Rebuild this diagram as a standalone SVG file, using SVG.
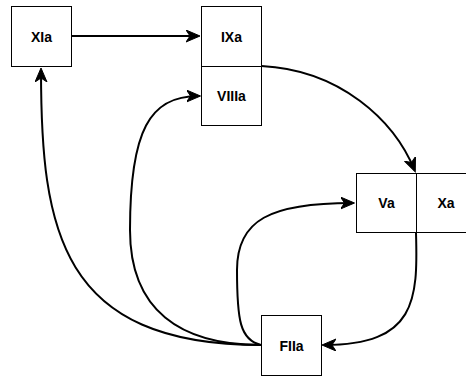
<svg xmlns="http://www.w3.org/2000/svg" width="466" height="376" viewBox="0 0 466 376">
<style>
.box{fill:#fff;stroke:#000;stroke-width:1}
.lbl{font-family:"Liberation Sans",Arial,sans-serif;font-size:14px;font-weight:bold;fill:#000;text-anchor:middle}
.edge{fill:none;stroke:#000;stroke-width:2;marker-end:url(#arr)}
</style>
<defs>
<marker id="arr" markerUnits="userSpaceOnUse" markerWidth="16" markerHeight="16" refX="12" refY="6" orient="auto">
<path d="M14,6 L0,0 L4,6 L0,12 Z" fill="#000" stroke="#000" stroke-width="1" stroke-linejoin="miter"/>
</marker>
</defs>
<rect width="466" height="376" fill="#fff"/>
<g id="XIa"><rect class="box" x="11.5" y="6.5" width="60" height="60"/><text class="lbl" x="41.5" y="41.5">XIa</text></g>
<g id="IXa"><rect class="box" x="201.5" y="6.5" width="60" height="60"/><text class="lbl" x="231.5" y="41.5">IXa</text></g>
<g id="VIIIa"><rect class="box" x="201.5" y="66.5" width="60" height="59"/><text class="lbl" x="231.5" y="101">VIIIa</text></g>
<g id="Va"><rect class="box" x="356.5" y="173.5" width="60" height="59"/><text class="lbl" x="386.5" y="208">Va</text></g>
<g id="Xa"><rect class="box" x="416.5" y="173.5" width="60" height="59"/><text class="lbl" x="446" y="208">Xa</text></g>
<g id="FIIa"><rect class="box" x="261.5" y="315.5" width="60" height="60"/><text class="lbl" x="291.5" y="350.5">FIIa</text></g>
<g id="connectors">
<path class="edge" d="M71.5,36 L198,36"/>
<path class="edge" d="M261.5,66 C340,70 394,120 414.5,170"/>
<path class="edge" d="M261,345 C60,345 41,230 41,70"/>
<path class="edge" d="M261,345 C180,345 130,310 130,230 C130,130 150,96 198.5,96"/>
<path class="edge" d="M261,345 C240,340 237,320 237,270 C237,220 270,203 352.5,203"/>
<path class="edge" d="M416,233 C418,300 416,345 324,345"/>
</g>
</svg>
